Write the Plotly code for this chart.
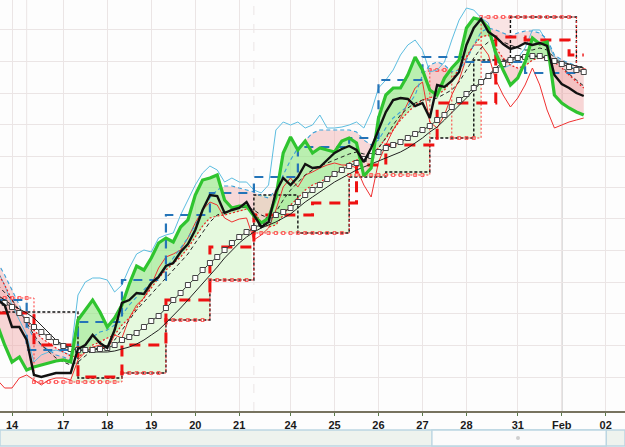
import numpy as np
import plotly.graph_objects as go

# ---- bar index axis (4-hour bars, Jan 14 00:00 = bar 0) ----
bars = np.arange(-2, 79)
day_labels = ['14', '17', '18', '19', '20', '21', '24', '25', '26', '27', '28', '31', 'Feb', '02']
day_bars = [0, 7, 13, 19, 25, 31, 38, 44, 50, 56, 62, 69, 75, 81]
grid_levels = [34, 66, 98, 129, 161, 193, 224, 255, 287, 318, 350, 382]

# ---- series values (price index units) ----
green_line = [86, 66, 49, 54, 41, 44, 46, 48, 50, 51,
              49, 91, 101, 111, 99, 84, 93, 106, 127, 145,
              141, 153, 168, 173, 169, 184, 191, 216, 231, 233,
              236, 211, 203, 205, 205, 195, 188, 193, 214, 258,
              274, 261, 270, 258, 263, 261, 259, 270, 273, 268,
              235, 243, 293, 316, 323, 323, 336, 354, 341, 321,
              316, 333, 343, 351, 383, 393, 391, 383, 358, 341,
              326, 333, 349, 373, 367, 369, 316, 308, 303, 299, 296]
black_line = [111, 106, 84, 84, 71, 36, 34, 36, 38, 38,
              38, 62, 66, 76, 68, 63, 81, 108, 111, 118,
              117, 128, 134, 145, 148, 159, 167, 181, 201, 216,
              215, 198, 201, 203, 209, 196, 184, 189, 219, 233,
              226, 234, 247, 243, 244, 251, 258, 262, 265, 261,
              249, 263, 281, 299, 311, 313, 312, 305, 308, 293,
              326, 324, 330, 339, 366, 383, 392, 379, 374, 367,
              362, 364, 368, 366, 368, 365, 336, 327, 323, 318, 315]
upper_band = [141, 126, 106, 91, 76, 49, 56, 59, 61, 59,
              56, 116, 129, 133, 133, 131, 119, 126, 143, 157,
              161, 159, 173, 176, 178, 196, 211, 226, 238, 245,
              241, 229, 233, 229, 229, 221, 218, 226, 281, 289,
              286, 289, 283, 286, 296, 283, 283, 284, 286, 289,
              283, 299, 323, 331, 341, 356, 366, 371, 361, 339,
              341, 349, 371, 391, 403, 401, 393, 388, 351, 343,
              346, 353, 363, 381, 381, 369, 354, 349, 346, 341, 339]
lower_band = [31, 23, 23, 33, 36, 31, 26, 31, 33, 33,
              31, 51, 59, 64, 66, 61, 76, 73, 93, 106,
              113, 126, 143, 154, 157, 161, 173, 188, 201, 209,
              206, 193, 189, 192, 193, 171, 176, 183, 201, 224,
              233, 224, 236, 239, 243, 246, 248, 246, 246, 243,
              226, 214, 249, 266, 281, 293, 308, 323, 329, 289,
              283, 296, 316, 331, 353, 366, 366, 356, 331, 316,
              304, 313, 326, 343, 326, 301, 283, 286, 289, 291, 293]
red_ma = [139, 126, 111, 99, 91, 81, 73, 68, 63, 59,
          55, 54, 59, 66, 69, 73, 76, 86, 93, 103,
          113, 124, 133, 141, 148, 154, 163, 174, 185, 193,
          195, 196, 198, 200, 202, 199, 189, 184, 186, 196,
          206, 213, 221, 226, 229, 233, 236, 243, 248, 251,
          253, 256, 263, 273, 281, 291, 299, 306, 311, 313,
          316, 321, 331, 343, 354, 366, 374, 376, 363, 353,
          346, 343, 345, 351, 353, 353, 349, 343, 336, 329, 323]
blue_signal = [149, 136, 121, 106, 86, 73, 66, 61, 56, 54,
               51, 56, 66, 74, 79, 81, 86, 96, 106, 114,
               121, 128, 136, 143, 153, 163, 173, 186, 201, 213,
               221, 225, 225, 223, 221, 219, 215, 213, 221, 236,
               251, 263, 271, 278, 281, 281, 281, 281, 281, 279,
               271, 266, 271, 283, 293, 299, 305, 316, 336, 346,
               349, 346, 339, 341, 351, 366, 379, 383, 381, 378,
               375, 378, 380, 380, 378, 372, 356, 351, 348, 345, 341]
slow_ma_squares = [111, 108, 104, 98, 91, 84, 79, 74, 69, 65,
                   62, 61, 61, 61, 62, 63, 66, 71, 74, 78,
                   84, 90, 95, 103, 111, 118, 126, 133, 141, 148,
                   154, 161, 168, 174, 179, 183, 187, 191, 196, 199,
                   203, 209, 216, 221, 226, 232, 237, 241, 245, 248,
                   252, 255, 259, 263, 266, 269, 273, 277, 281, 285,
                   291, 296, 304, 311, 317, 323, 329, 335, 341, 347,
                   351, 353, 354, 355, 355, 353, 350, 347, 344, 341, 339]
slow_ma_thin = [116, 111, 106, 102, 98, 93, 86, 79, 71, 66,
                63, 61, 60, 59, 59, 59, 60, 62, 64, 67,
                71, 76, 81, 88, 95, 103, 111, 119, 128, 136,
                144, 153, 161, 168, 174, 179, 183, 186, 189, 193,
                197, 203, 209, 214, 219, 224, 229, 233, 237, 241,
                244, 247, 250, 253, 256, 259, 263, 268, 273, 279,
                284, 291, 298, 305, 313, 321, 329, 336, 343, 349,
                353, 354, 355, 355, 354, 353, 351, 349, 347, 345, 343]
fast_ma_dash = [126, 119, 111, 101, 89, 76, 66, 59, 53, 49,
                46, 49, 55, 61, 64, 66, 71, 81, 91, 101,
                109, 117, 125, 133, 141, 149, 157, 168, 179, 189,
                196, 199, 201, 203, 204, 201, 196, 193, 199, 211,
                221, 229, 236, 241, 245, 248, 251, 254, 257, 259,
                257, 257, 263, 273, 286, 296, 303, 308, 311, 311,
                313, 317, 321, 329, 341, 353, 363, 369, 371, 369,
                366, 363, 361, 361, 363, 361, 353, 345, 337, 331, 325]

# step lines: (first bar of each level, level)
tenkan_start = [-2, 2, 9, 15, 21, 27, 33, 39, 46, 50, 56, 62, 70]
tenkan_level = [111, 61, 89, 131, 196, 218, 234, 264, 273, 331, 354, 349, 338]
kijun_start = [-2, 3, 9, 15, 21, 27, 33, 41, 47, 51, 58, 66, 70, 76]
kijun_level = [98, 66, 34, 66, 111, 164, 196, 208, 246, 266, 308, 374, 371, 356]
spanb_start = [-2, 9, 15, 21, 27, 33, 39, 46, 51, 57, 63, 68, 77]
spanb_level = [99, 33, 38, 91, 131, 216, 178, 234, 239, 273, 351, 394, 344]
spana_start = [-2, 3, 15, 21, 27, 33, 46, 57, 60, 64, 77]
spana_level = [113, 29, 38, 91, 131, 178, 236, 341, 273, 394, 341]
cloud_fill_from = 9


def expand(starts, levels):
    out = np.empty(len(bars))
    ends = list(starts[1:]) + [bars[-1] + 1]
    for s, e, lv in zip(starts, ends, levels):
        out[(bars >= s) & (bars < e)] = lv
    return out


tenkan = expand(tenkan_start, tenkan_level)
kijun = expand(kijun_start, kijun_level)
spanb = expand(spanb_start, spanb_level)
spana = expand(spana_start, spana_level)

# fine grid for fills
xf = np.arange(bars[0], bars[-1] + 1e-9, 0.05)


def lin(v):
    return np.interp(xf, bars, np.asarray(v, float))


def stp(v):
    idx = np.clip(np.floor(xf - bars[0] + 1e-6).astype(int), 0, len(v) - 1)
    return np.asarray(v, float)[idx]


fig = go.Figure()
NOLINE = dict(width=0, color='rgba(0,0,0,0)')


def band(top, base, color, pattern=None):
    fig.add_trace(go.Scatter(x=xf, y=base, mode='lines', line=NOLINE,
                             hoverinfo='skip', showlegend=False))
    kw = {'fillpattern': pattern} if pattern else {}
    fig.add_trace(go.Scatter(x=xf, y=top, mode='lines', line=NOLINE, fill='tonexty',
                             fillcolor=color, hoverinfo='skip', showlegend=False, **kw))


hatch_green = dict(shape='.', fgcolor='#b3eba2', bgcolor='#f2fcee', size=2, solidity=0.5)
hatch_pink = dict(shape='.', fgcolor='#ecb8b8', bgcolor='#fcf0f0', size=2, solidity=0.5)

g = lin(green_line)
k = lin(black_line)
r = lin(red_ma)
mb = lin(blue_signal)
sa = stp(spana)
sb = stp(spanb)
cb = np.minimum(sa, sb)
p = np.maximum(g, k)
cloud_on = xf >= cloud_fill_from

# cloud
band(np.where(cloud_on, np.maximum(sb, sa), sa), sa, '#f2fcee', hatch_green)
band(np.where(cloud_on, np.maximum(sa, sb), sb), sb, '#fcf0f0', hatch_pink)
# light hatched zone from the moving average down to the cloud
hz_top = np.where((p > r) & (r > cb), r, cb)
band(hz_top, cb, '#f2fcee', hatch_green)
# price vs moving average
band(np.maximum(g, r), r, 'rgba(150,232,135,0.65)')
band(np.minimum(g, r), r, 'rgba(240,165,165,0.45)')
# signal above price
band(np.maximum(mb, p), p, 'rgba(240,170,170,0.45)')


# ---- lines ----
def line(y, color, width, dash='solid', shape='linear', **kw):
    fig.add_trace(go.Scatter(x=bars, y=y, mode=kw.pop('mode', 'lines'),
                             line=dict(color=color, width=width, dash=dash, shape=shape),
                             hoverinfo='skip', showlegend=False, **kw))


line(spanb, '#111111', 1.4, '3px,2px', 'hv')
line(spana, '#ff3535', 1, '2px,2px', 'hv', mode='lines+markers',
     marker=dict(symbol='square-open', size=3, color='#ff4040', line=dict(width=0.8)))
line(lower_band, '#f03030', 1)
line(upper_band, '#5cbde0', 1)
line(red_ma, '#ee2020', 1.2, '2px,2px')
line(blue_signal, '#3aa0d8', 1.1, '4px,3px')
line(fast_ma_dash, '#222222', 1, '4px,3px')
line(tenkan, '#2474b8', 2.2, '9px,7px', 'hv')
line(kijun, '#ee1111', 3, '11px,8px', 'hv')
line(slow_ma_thin, '#222222', 1)
line(slow_ma_squares, '#333333', 1, mode='lines+markers',
     marker=dict(symbol='square', size=5, color='white', line=dict(color='#444444', width=1)))
line(green_line, '#2fc42f', 3.2)
line(black_line, '#111111', 2.4)

# ---- layout ----
shapes = [
    dict(type='line', xref='x', yref='paper', x0=75, x1=75, y0=0, y1=1,
         line=dict(color='#bdbdbd', width=1.5), layer='below'),
    dict(type='line', xref='x', yref='paper', x0=2, x1=2, y0=0, y1=1,
         line=dict(color='#ebe5e5', width=1), layer='below'),
    dict(type='line', xref='x', yref='paper', x0=33, x1=33, y0=0, y1=1,
         line=dict(color='#ebe5e5', width=1, dash='dash'), layer='below'),
    # navigator strip
    dict(type='rect', xref='paper', yref='paper', x0=0, x1=1, y0=-0.0852, y1=-0.0462,
         fillcolor='#eef3ee', line=dict(color='#bcd6e2', width=1.5)),
    dict(type='rect', xref='paper', yref='paper', x0=0.691, x1=0.970, y0=-0.0852, y1=-0.0462,
         fillcolor='#fbfbfb', line=dict(color='#bcd6e2', width=1.5)),
    dict(type='circle', xref='paper', yref='paper', x0=0.8256, x1=0.8320, y0=-0.0706, y1=-0.0608,
         fillcolor='#cfcfcf', line=dict(width=0)),
]

fig.update_layout(
    width=625, height=447,
    margin=dict(l=0, r=0, t=0, b=36),
    paper_bgcolor='#fdfdfd', plot_bgcolor='#fdfdfd',
    showlegend=False, hovermode=False,
    shapes=shapes,
    xaxis=dict(range=[-1.637, 83.63], tickvals=day_bars, ticktext=day_labels,
               showgrid=True, gridcolor='#ebe5e5', gridwidth=1, zeroline=False,
               showline=True, linecolor='#77735f', linewidth=2,
               ticks='outside', ticklen=3, tickcolor='#5a7a4a',
               tickfont=dict(family='Liberation Sans, Arial', size=11, color='#1a1a1a', weight='bold')),
    yaxis=dict(range=[0, 411], tickvals=grid_levels, showticklabels=False,
               showgrid=True, gridcolor='#ebe5e5', gridwidth=1.2, zeroline=False,
               showline=False, ticks=''),
)

fig.write_html('out.html')
